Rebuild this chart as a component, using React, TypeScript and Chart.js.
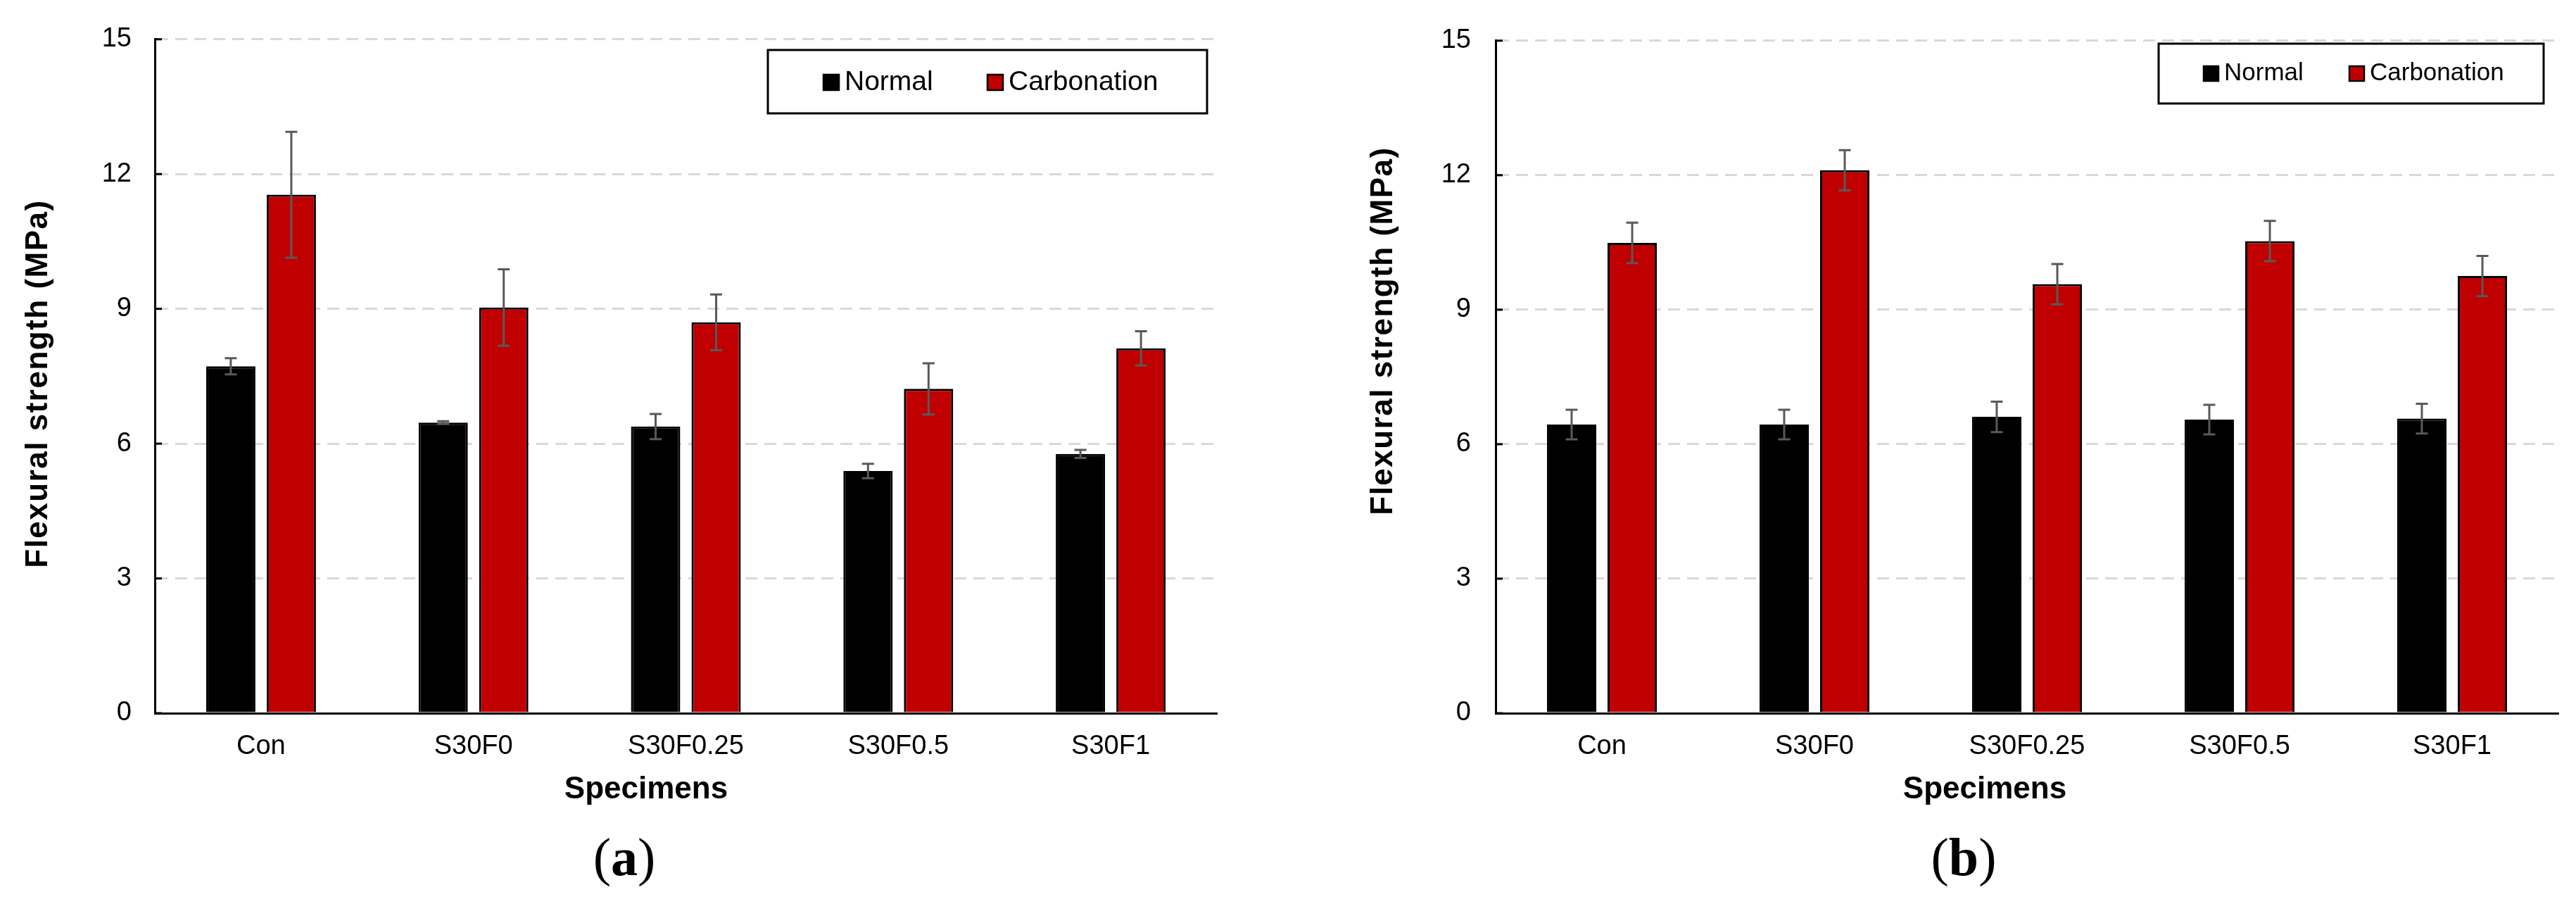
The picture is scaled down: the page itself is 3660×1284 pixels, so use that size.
import React, { useEffect, useRef } from "react";
import { Chart, registerables } from "chart.js";

Chart.register(...registerables);

// specimens on the x axis (same for both panels)
const categories = ["Con", "S30F0", "S30F0.25", "S30F0.5", "S30F1"];
const yTicks = [0, 3, 6, 9, 12, 15];

// panel (a)
const normalA = [7.72, 6.47, 6.38, 5.39, 5.77];
const normalAErr = [0.18, 0.03, 0.28, 0.16, 0.09];
const carbA = [11.54, 9.03, 8.7, 7.22, 8.12];
const carbAErr = [1.4, 0.85, 0.62, 0.57, 0.38];

// panel (b)
const normalB = [6.44, 6.44, 6.61, 6.55, 6.57];
const normalBErr = [0.33, 0.33, 0.34, 0.33, 0.33];
const carbB = [10.49, 12.11, 9.57, 10.53, 9.75];
const carbBErr = [0.45, 0.45, 0.45, 0.45, 0.45];

const seriesNames = ["Normal", "Carbonation"];
const seriesColors = ["#000000", "#C00000"];

const SANS = "'Liberation Sans', Arial, sans-serif";
const SERIF = "'Liberation Serif', 'Times New Roman', serif";

type PanelCfg = {
  left: number;
  caption: string;
  normal: number[];
  normalErr: number[];
  carb: number[];
  carbErr: number[];
  axisLeft: number;
  padRight: number;
  tickPad: number;
  yTitle: { x: number; y: number };
  xTitle: { x: number; y: number };
  cap: { x: number; y: number };
  legend: { x1: number; y1: number; x2: number; y2: number; sy: number; sq: number; items: number[]; size: number };
};

const panels: PanelCfg[] = [
  {
    left: 0,
    caption: "a",
    normal: normalA,
    normalErr: normalAErr,
    carb: carbA,
    carbErr: carbAErr,
    axisLeft: 220,
    padRight: 101,
    tickPad: 33,
    yTitle: { x: 55, y: 545 },
    xTitle: { x: 918, y: 1122 },
    cap: { x: 887, y: 1243 },
    legend: { x1: 1091, y1: 71, x2: 1715, y2: 161, sy: 106, sq: 22, items: [1170, 1403], size: 39 },
  },
  {
    left: 1830,
    caption: "b",
    normal: normalB,
    normalErr: normalBErr,
    carb: carbB,
    carbErr: carbBErr,
    axisLeft: 295,
    padRight: 25,
    tickPad: 35,
    yTitle: { x: 136, y: 470 },
    xTitle: { x: 990, y: 1122 },
    cap: { x: 960, y: 1243 },
    legend: { x1: 1237, y1: 62, x2: 1784, y2: 147, sy: 94, sq: 21, items: [1301, 1508], size: 35 },
  },
];

const Panel: React.FC<{ cfg: PanelCfg }> = ({ cfg }) => {
  const canvasRef = useRef<HTMLCanvasElement | null>(null);

  useEffect(() => {
    if (!canvasRef.current) return;

    const errors = [cfg.normalErr, cfg.carbErr];

    // error bars, inside y ticks, titles, legend box and caption
    const decor = {
      id: "decor",
      afterDatasetsDraw(chart: any) {
        const ctx = chart.ctx;
        const y = chart.scales.y;
        ctx.save();
        ctx.strokeStyle = "#595959";
        ctx.lineWidth = 3;
        chart.data.datasets.forEach((ds: any, i: number) => {
          const meta = chart.getDatasetMeta(i);
          meta.data.forEach((bar: any, j: number) => {
            const v = ds.data[j];
            const e = errors[i][j];
            const top = y.getPixelForValue(v + e);
            const bot = y.getPixelForValue(v - e);
            ctx.beginPath();
            ctx.moveTo(bar.x, top);
            ctx.lineTo(bar.x, bot);
            ctx.moveTo(bar.x - 8.5, top);
            ctx.lineTo(bar.x + 8.5, top);
            ctx.moveTo(bar.x - 8.5, bot);
            ctx.lineTo(bar.x + 8.5, bot);
            ctx.stroke();
          });
        });
        ctx.restore();
      },
      afterDraw(chart: any) {
        const ctx = chart.ctx;
        const y = chart.scales.y;
        const area = chart.chartArea;
        ctx.save();

        // short tick marks pointing into the plot
        ctx.strokeStyle = "#000";
        ctx.lineWidth = 3;
        y.ticks.forEach((t: any) => {
          const py = y.getPixelForValue(t.value);
          ctx.beginPath();
          ctx.moveTo(area.left, py);
          ctx.lineTo(area.left + 10, py);
          ctx.stroke();
        });

        ctx.fillStyle = "#000";
        ctx.textAlign = "center";
        ctx.textBaseline = "middle";

        // y title
        ctx.save();
        ctx.translate(cfg.yTitle.x, cfg.yTitle.y);
        ctx.rotate(-Math.PI / 2);
        ctx.font = `bold 44px ${SANS}`;
        (ctx as any).letterSpacing = "1.5px";
        ctx.fillText("Flexural strength (MPa)", 0, 0);
        ctx.restore();

        // x title
        ctx.font = `bold 44px ${SANS}`;
        ctx.fillText("Specimens", cfg.xTitle.x, cfg.xTitle.y);

        // legend with frame
        const lg = cfg.legend;
        ctx.lineWidth = 3;
        ctx.strokeStyle = "#000";
        ctx.strokeRect(lg.x1, lg.y1, lg.x2 - lg.x1, lg.y2 - lg.y1);
        ctx.font = `${lg.size}px ${SANS}`;
        ctx.textAlign = "left";
        chart.data.datasets.forEach((ds: any, i: number) => {
          const sx = lg.items[i];
          ctx.fillStyle = ds.backgroundColor;
          ctx.fillRect(sx, lg.sy, lg.sq, lg.sq);
          ctx.lineWidth = 2.5;
          ctx.strokeRect(sx, lg.sy, lg.sq, lg.sq);
          ctx.fillStyle = "#000";
          ctx.fillText(ds.label, sx + lg.sq + 8, lg.sy + lg.sq / 2);
        });

        // caption "(a)" / "(b)"
        ctx.textBaseline = "alphabetic";
        const regular = `76px ${SERIF}`;
        const bold = `bold 76px ${SERIF}`;
        ctx.font = regular;
        const wp = ctx.measureText("(").width;
        const wq = ctx.measureText(")").width;
        ctx.font = bold;
        const wl = ctx.measureText(cfg.caption).width;
        let cx = cfg.cap.x - (wp + wl + wq) / 2;
        ctx.font = regular;
        ctx.fillText("(", cx, cfg.cap.y);
        cx += wp;
        ctx.font = bold;
        ctx.fillText(cfg.caption, cx, cfg.cap.y);
        cx += wl;
        ctx.font = regular;
        ctx.fillText(")", cx, cfg.cap.y);

        ctx.restore();
      },
    };

    const chart = new Chart(canvasRef.current, {
      type: "bar",
      data: {
        labels: categories,
        datasets: [
          {
            label: seriesNames[0],
            data: cfg.normal,
            backgroundColor: seriesColors[0],
            borderColor: "#000",
            borderWidth: 3,
            barPercentage: 0.814,
            categoryPercentage: 0.57,
          },
          {
            label: seriesNames[1],
            data: cfg.carb,
            backgroundColor: seriesColors[1],
            borderColor: "#000",
            borderWidth: 3,
            barPercentage: 0.814,
            categoryPercentage: 0.57,
          },
        ],
      },
      options: {
        animation: false,
        responsive: true,
        maintainAspectRatio: false,
        layout: { padding: { left: 0, top: 51, right: cfg.padRight, bottom: 0 } },
        plugins: {
          legend: { display: false },
          tooltip: { enabled: false },
        },
        scales: {
          x: {
            grid: { display: false, drawTicks: false },
            border: { display: true, color: "#000", width: 3 },
            ticks: {
              color: "#000",
              font: { family: SANS, size: 38 },
              padding: 25,
              maxRotation: 0,
              autoSkip: false,
            },
            afterFit: (s: any) => {
              s.height = 271;
            },
          },
          y: {
            min: yTicks[0],
            max: yTicks[yTicks.length - 1],
            afterBuildTicks: (s: any) => {
              s.ticks = yTicks.map((v) => ({ value: v }));
            },
            grid: {
              color: (c: any) => (c.tick && c.tick.value === 0 ? "rgba(0,0,0,0)" : "#d9d9d9"),
              lineWidth: 3,
              drawTicks: false,
            },
            border: { display: true, color: "#000", width: 3, dash: [17, 10] },
            ticks: {
              color: "#000",
              font: { family: SANS, size: 38 },
              padding: cfg.tickPad,
            },
            afterFit: (s: any) => {
              s.width = cfg.axisLeft;
            },
          },
        },
      },
      plugins: [decor],
    });

    return () => {
      chart.destroy();
    };
  }, [cfg]);

  return (
    <div style={{ position: "absolute", left: cfg.left, top: 0, width: 1830, height: 1284 }}>
      <canvas ref={canvasRef}></canvas>
    </div>
  );
};

const App: React.FC = () => {
  return (
    <div style={{ position: "absolute", left: 0, top: 0, width: 3660, height: 1284, background: "#fff" }}>
      {panels.map((p) => (
        <Panel key={p.caption} cfg={p} />
      ))}
    </div>
  );
};

export default App;
